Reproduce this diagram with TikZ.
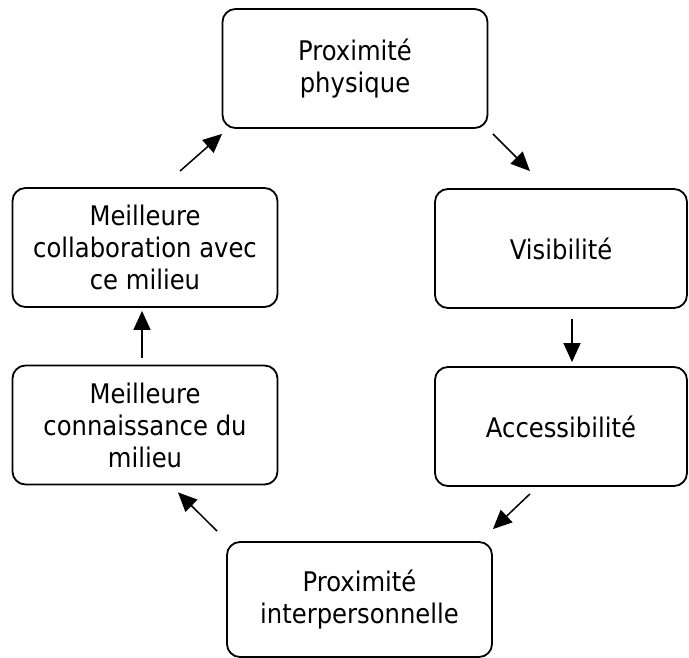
\documentclass[tikz,border=0pt]{standalone}
\usepackage{fontspec}
\setmainfont{DejaVu Sans}[FakeStretch=0.9]
\usepackage{tikz}
\usetikzlibrary{positioning,arrows.meta}

\begin{document}
\begin{tikzpicture}[x=1pt, y=-1pt, >={Triangle[length=19pt,width=17pt]},
  box/.style={draw, line width=1.8pt, rounded corners=13pt, minimum width=265pt,
    minimum height=119pt, inner sep=0pt, align=center,
    font=\fontsize{27}{32}\selectfont},
  link/.style={->, line width=1.5pt}]
  \useasboundingbox (0,0) rectangle (689,658);
  \clip (0,0) rectangle (689,658);

  \node[box] (prox) at (355,68.5) {Proximité\\physique};
  \node[box, minimum width=252pt] (visi) at (561,248.5) {Visibilité};
  \node[box, minimum width=252pt] (acce) at (561,426.5) {Accessibilité};
  \node[box, minimum height=115pt] (inter) at (359.5,599.5) {Proximité\\interpersonnelle};
  \node[box] (conn) at (145,425) {Meilleure\\connaissance du\\milieu};
  \node[box] (collab) at (145,247.5) {Meilleure\\collaboration avec\\ce milieu};

  \draw[link] ([shift={(35,-16)}]collab.north) -- ([shift={(0.5,5)}]prox.south west);
  \draw[link] ([shift={(4.5,5)}]prox.south east) -- ([shift={(-31,-17)}]visi.north);
  \draw[link] ([shift={(11,10)}]visi.south) -- ([shift={(11,-4)}]acce.north);
  \draw[link] ([shift={(-31,7)}]acce.south) -- ([shift={(0,-12)}]inter.north east);
  %\draw[link] (inter) -- (conn);
  \draw[link] ([shift={(-9,-10)}]inter.north west) -- ([shift={(33,7)}]conn.south);
  \draw[link] ([shift={(-3,-7)}]conn.north) -- ([shift={(-3,3)}]collab.south);
\end{tikzpicture}
\end{document}
